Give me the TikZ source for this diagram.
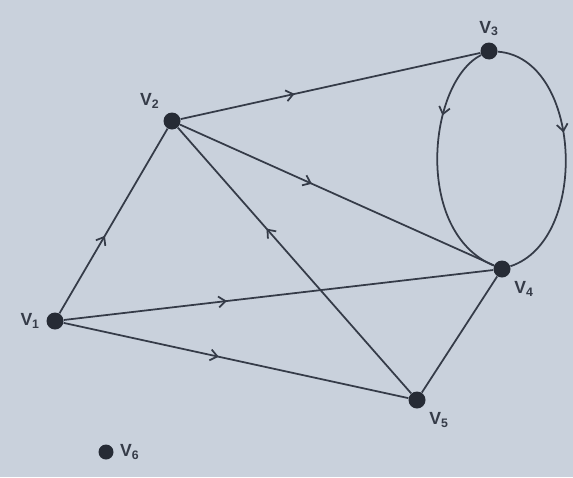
\documentclass[tikz,border=0pt]{standalone}
\usepackage{fontspec}
\setsansfont{Liberation Sans}
\usepackage{tikz}
\usetikzlibrary{arrows.meta,decorations.markings}
\definecolor{GrPaper}{HTML}{C9D1DC}
\definecolor{GrInk}{HTML}{353B48}
\definecolor{GrDot}{HTML}{262B35}

\begin{document}
\begin{tikzpicture}[x=0.02cm,y=-0.02cm,
        vtx/.style={circle,fill=GrDot,inner sep=0pt,minimum size=3.4mm,label distance=0.3mm},
        every label/.style={font=\sffamily\bfseries,text=GrInk},
        edge/.style={GrInk,line width=1pt},
        midarr/.style={decoration={markings,mark=at position #1 with {\arrow{Straight Barb[length=1.4mm,width=2.2mm]}}},postaction={decorate}}
      ]
        \fill[GrPaper] (0,0) rectangle (573,477);
        \useasboundingbox (0,0) rectangle (573,477);
        \node[vtx,label=left:V\textsubscript{1}] (v1) at (55,321) {};
        \node[vtx,label=above left:V\textsubscript{2}] (v2) at (172,121) {};
        \node[vtx,label=above:V\textsubscript{3}] (v3) at (489,51) {};
        \node[vtx,label=below right:V\textsubscript{4}] (v4) at (502,269) {};
        \node[vtx,label=below right:V\textsubscript{5}] (v5) at (417,400) {};
        \node[vtx,minimum size=3mm,label={[label distance=0pt]right:V\textsubscript{6}}] (v6) at (106,452) {};
        \draw[edge,midarr=0.42] (v1)--(v2);
        \draw[edge,midarr=0.38] (v2)--(v3);
        \draw[edge,midarr=0.42] (v2)--(v4);
        \draw[edge,midarr=0.62] (v5)--(v2);
        \draw[edge,midarr=0.38] (v1)--(v4);
        \draw[edge,midarr=0.45] (v1)--(v5);
        \draw[edge] (v4)--(v5);
        \draw[edge,midarr=0.3] (v3) .. controls (428,82) and (413,232) .. (v4);
        \draw[edge,midarr=0.42] (v3) .. controls (582,58) and (590,240) .. (v4);
      \end{tikzpicture}
\end{document}
